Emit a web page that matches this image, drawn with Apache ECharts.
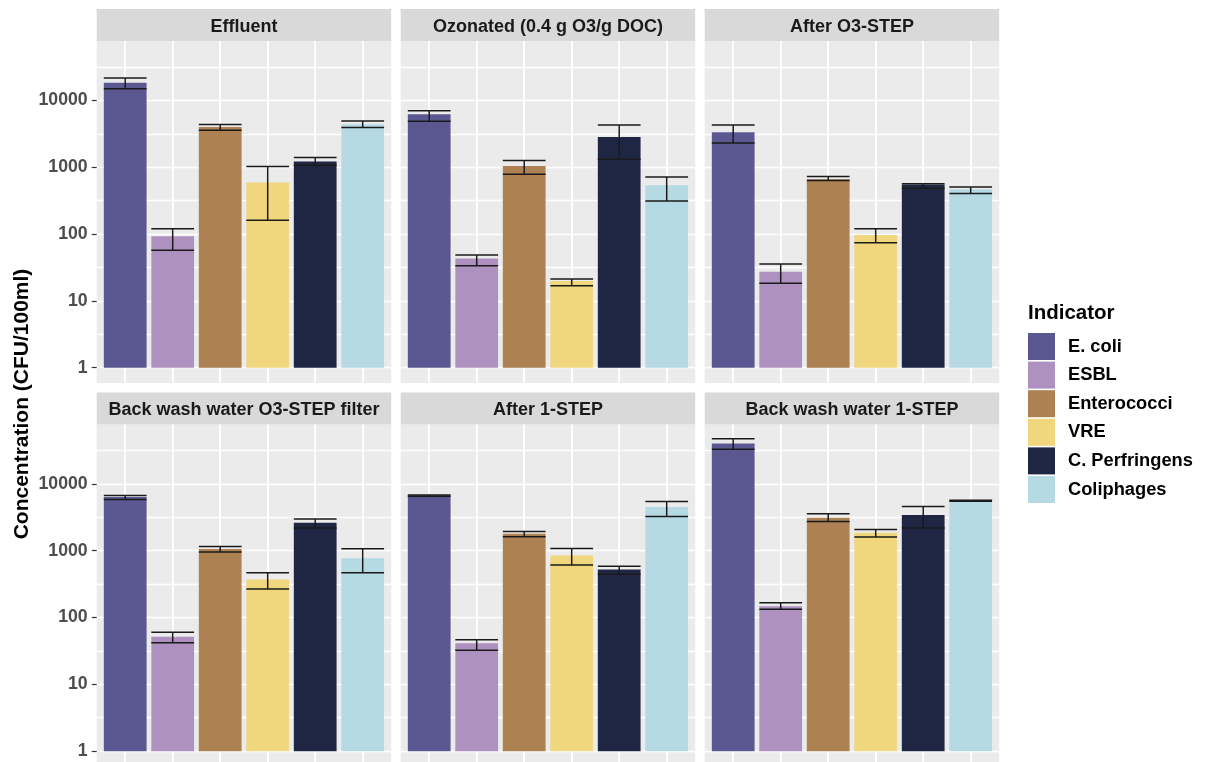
<!DOCTYPE html>
<html>
<head>
<meta charset="utf-8">
<script src="https://cdn.jsdelivr.net/npm/echarts@6/dist/echarts.min.js"></script>
<style>
  html, body { margin: 0; padding: 0; background: #fff; }
  #chart-container { width: 1208px; height: 762px; }
</style>
</head>
<body>
<div id="chart-container"></div>
<script>
var dom = document.getElementById("chart-container");
var myChart = echarts.init(dom, null, { renderer: "canvas" });

var indicators = ["E. coli", "ESBL", "Enterococci", "VRE", "C. Perfringens", "Coliphages"];
var colors = ["#5B5790", "#AE91BE", "#AD8152", "#F0D67C", "#1E2644", "#B5DAE4"];
var facets = [
  "Effluent",
  "Ozonated (0.4 g O3/g DOC)",
  "After O3-STEP",
  "Back wash water O3-STEP filter",
  "After 1-STEP",
  "Back wash water 1-STEP"
];
// mean concentration per facet, same order as indicators
var means = [
  [18400, 93, 4000, 590, 1220, 4400],
  [6200, 43, 1045, 19.8, 2840, 538],
  [3340, 27.2, 662, 97, 550, 469],
  [6400, 51.5, 1060, 370, 2630, 775],
  [6700, 41.4, 1795, 847, 522, 4510],
  [40300, 147, 3120, 1860, 3420, 5610]
];
var lower = [
  [15000, 57, 3570, 161, 1070, 3920],
  [4870, 33.5, 786, 16.8, 1320, 313],
  [2310, 18.3, 632, 74, 485, 404],
  [5870, 42, 955, 268, 2185, 470],
  [6550, 32.5, 1620, 614, 445, 3260],
  [33100, 133, 2750, 1600, 2185, 5500]
];
var upper = [
  [21600, 120, 4350, 1025, 1400, 4920],
  [7030, 48.4, 1260, 21.2, 4290, 716],
  [4290, 35.5, 726, 120, 565, 508],
  [6740, 60, 1155, 470, 2980, 1070],
  [6850, 46.4, 1945, 1080, 587, 5480],
  [47300, 167, 3580, 2080, 4610, 5720]
];

// layout (px)
var colLeft = [96.7, 400.7, 704.7];
var rowTop = [41, 424.5];
var panelW = 294.5;
var panelH = 342;
var stripH = 32;
var logLo = -0.23, logHi = 4.89;
var pxPerDec = panelH / (logHi - logLo);
var unit = panelW / 6.2;
var fontFam = "'Liberation Sans', Arial, sans-serif";

var grids = [], xAxes = [], yAxes = [], series = [], graphics = [];

function addGrid(g) {
  g.containLabel = false;
  g.outerBoundsMode = "none";
  grids.push(g);
  return grids.length - 1;
}

var hidden = { show: false };

facets.forEach(function (name, i) {
  var col = i % 3, row = Math.floor(i / 3);
  var left = colLeft[col], top = rowTop[row];

  // panel background + bars
  var gb = addGrid({ left: left, top: top, width: panelW, height: panelH,
    show: true, backgroundColor: "#EBEBEB", borderWidth: 0 });
  xAxes.push({ type: "value", gridIndex: gb, min: 0.4, max: 6.6, show: false });
  yAxes.push({ type: "log", gridIndex: gb, min: Math.pow(10, logLo), max: Math.pow(10, logHi), show: false });
  var bIdx = xAxes.length - 1;

  // horizontal grid lines every half decade
  var gl = addGrid({ left: left, width: panelW, top: top + (logHi - 4.5) * pxPerDec, height: 4.5 * pxPerDec });
  xAxes.push({ type: "value", gridIndex: gl, show: false });
  yAxes.push({ type: "value", gridIndex: gl, min: 0, max: 9, interval: 1,
    axisLine: hidden, axisTick: hidden, axisLabel: hidden,
    splitLine: { show: true, lineStyle: { color: "#FFFFFF", width: 1.4 } } });

  // vertical grid lines at bar centres
  var gv = addGrid({ left: left + 0.6 * unit, width: panelW - 1.2 * unit, top: top, height: panelH });
  xAxes.push({ type: "category", gridIndex: gv, data: indicators, boundaryGap: false,
    axisLine: hidden, axisTick: hidden, axisLabel: { show: false, interval: 0 },
    splitLine: { show: true, interval: 0, lineStyle: { color: "#FFFFFF", width: 1.8 } } });
  yAxes.push({ type: "value", gridIndex: gv, show: false });

  indicators.forEach(function (ind, k) {
    series.push({
      name: ind, type: "bar", xAxisIndex: bIdx, yAxisIndex: bIdx,
      data: [[k + 1, means[i][k]]],
      barWidth: "90%", barGap: "-100%",
      itemStyle: { color: colors[k] },
      emphasis: { disabled: true }, silent: true, z: 2
    });
  });

  series.push({
    name: "err" + i, type: "custom", xAxisIndex: bIdx, yAxisIndex: bIdx, z: 3, silent: true,
    data: indicators.map(function (d, k) { return [k + 1, lower[i][k], upper[i][k]]; }),
    renderItem: function (params, api) {
      var x = api.value(0);
      var lo = api.coord([x, api.value(1)]);
      var hi = api.coord([x, api.value(2)]);
      var w = api.size([0.9, 0], [x, 1])[0] / 2;
      var st = { stroke: "#1A1A1A", lineWidth: 1.5 };
      return { type: "group", children: [
        { type: "line", shape: { x1: lo[0], y1: lo[1], x2: hi[0], y2: hi[1] }, style: st },
        { type: "line", shape: { x1: lo[0] - w, y1: lo[1], x2: lo[0] + w, y2: lo[1] }, style: st },
        { type: "line", shape: { x1: hi[0] - w, y1: hi[1], x2: hi[0] + w, y2: hi[1] }, style: st }
      ] };
    }
  });

  // strip
  graphics.push({ type: "rect", shape: { x: left, y: top - stripH, width: panelW, height: stripH },
    style: { fill: "#D9D9D9" }, silent: true });
  graphics.push({ type: "text", x: left + panelW / 2, y: top - stripH / 2 + 2, silent: true,
    style: { text: name, fill: "#1A1A1A", font: "bold 18px " + fontFam,
      textAlign: "center", textVerticalAlign: "middle" } });
});

// y axis labels for left column
rowTop.forEach(function (top) {
  var gt = addGrid({ left: colLeft[0], width: panelW, top: top + (logHi - 4) * pxPerDec, height: 4 * pxPerDec });
  xAxes.push({ type: "value", gridIndex: gt, show: false });
  yAxes.push({ type: "log", gridIndex: gt, min: 1, max: 10000,
    axisLine: hidden,
    axisTick: { show: true, length: 5, lineStyle: { color: "#333333", width: 1.2 } },
    axisLabel: { show: true, margin: 9, color: "#4D4D4D", fontSize: 17.7, fontWeight: "bold",
      fontFamily: fontFam,
      formatter: function (v) { return String(Math.round(v)); } },
    splitLine: hidden });
});

graphics.push({ type: "text", x: 22, y: 404, rotation: Math.PI / 2, silent: true,
  style: { text: "Concentration (CFU/100ml)", fill: "#000000",
    font: "bold 21px " + fontFam,
    textAlign: "center", textVerticalAlign: "middle" } });

var option = {
  animation: false,
  backgroundColor: "#FFFFFF",
  title: {
    text: "Indicator", left: 1028, top: 303, padding: 0,
    textStyle: { fontSize: 20.5, fontWeight: "bold", color: "#000000", fontFamily: fontFam }
  },
  legend: {
    data: indicators, orient: "vertical", left: 1028, top: 333, padding: 0,
    itemWidth: 27, itemHeight: 27, itemGap: 1.6, icon: "rect", selectedMode: false,
    textStyle: { fontSize: 18.3, fontWeight: "bold", color: "#000000", padding: [0, 0, 0, 8],
      fontFamily: fontFam }
  },
  tooltip: { show: false },
  grid: grids,
  xAxis: xAxes,
  yAxis: yAxes,
  series: series,
  graphic: graphics
};

myChart.setOption(option);

window.addEventListener("resize", function () {
  myChart.resize();
});
</script>
</body>
</html>
